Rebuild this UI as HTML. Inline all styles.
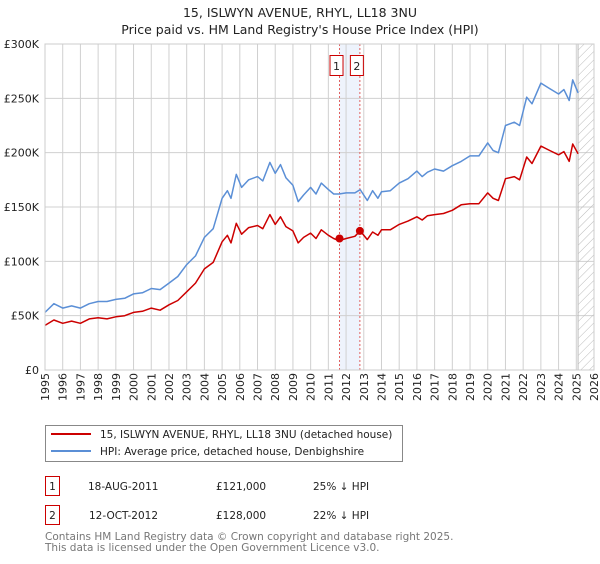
<!DOCTYPE html>
<html><head><meta charset="utf-8"><style>
body{margin:0;background:#fff;font-family:"DejaVu Sans","Liberation Sans",sans-serif;}
svg text{font-family:"DejaVu Sans","Liberation Sans",sans-serif;}
</style></head><body>
<svg id="c" width="600" height="560" xmlns="http://www.w3.org/2000/svg">
<defs><pattern id="hatch" width="6" height="6" patternUnits="userSpaceOnUse" patternTransform="rotate(45)"><line x1="0" y1="0" x2="0" y2="6" stroke="#bbb" stroke-width="1"/></pattern></defs>
<text x="300" y="17" text-anchor="middle" font-size="12.5" fill="#222">15, ISLWYN AVENUE, RHYL, LL18 3NU</text>
<text x="300" y="34" text-anchor="middle" font-size="12.5" fill="#222">Price paid vs. HM Land Registry's House Price Index (HPI)</text>
<g id="plot"></g>
<g>
<rect x="45.5" y="425.5" width="357" height="36" fill="#fff" stroke="#888"/>
<line x1="51" y1="434" x2="91" y2="434" stroke="#cc0000" stroke-width="2"/>
<text x="100" y="438" font-size="10.5" fill="#222">15, ISLWYN AVENUE, RHYL, LL18 3NU (detached house)</text>
<line x1="51" y1="451" x2="91" y2="451" stroke="#5b8fd6" stroke-width="2"/>
<text x="100" y="455" font-size="10.5" fill="#222">HPI: Average price, detached house, Denbighshire</text>
</g>
<g>
<rect x="45.5" y="476.5" width="14" height="19" fill="none" stroke="#cc0000"/>
<text x="52.5" y="490" text-anchor="middle" font-size="10.5" fill="#222">1</text>
<text x="88" y="490" font-size="10.5" fill="#222">18-AUG-2011</text>
<text x="216" y="490" font-size="10.5" fill="#222">£121,000</text>
<text x="313" y="490" font-size="10.5" fill="#222">25% ↓ HPI</text>
</g>
<g>
<rect x="45.5" y="505.5" width="14" height="19" fill="none" stroke="#cc0000"/>
<text x="52.5" y="519" text-anchor="middle" font-size="10.5" fill="#222">2</text>
<text x="89" y="519" font-size="10.5" fill="#222">12-OCT-2012</text>
<text x="216" y="519" font-size="10.5" fill="#222">£128,000</text>
<text x="313" y="519" font-size="10.5" fill="#222">22% ↓ HPI</text>
</g>
<text x="45" y="540" font-size="10.5" fill="#777">Contains HM Land Registry data © Crown copyright and database right 2025.</text>
<text x="45" y="551" font-size="10.5" fill="#777">This data is licensed under the Open Government Licence v3.0.</text>
</svg>
<script>
const years=[1995,1995.5,1996,1996.5,1997,1997.5,1998,1998.5,1999,1999.5,2000,2000.5,2001,2001.5,2002,2002.5,2003,2003.5,2004,2004.5,2005,2005.3,2005.5,2005.8,2006.1,2006.5,2007,2007.3,2007.7,2008.0,2008.3,2008.6,2009,2009.3,2009.6,2010,2010.3,2010.6,2011,2011.3,2011.6,2012,2012.5,2012.8,2013.2,2013.5,2013.8,2014,2014.5,2015,2015.5,2016,2016.3,2016.6,2017,2017.5,2018,2018.5,2019,2019.5,2020,2020.3,2020.6,2021,2021.5,2021.8,2022.2,2022.5,2023,2023.5,2024,2024.3,2024.6,2024.8,2025.1];
const hpi=[53,61,57,59,57,61,63,63,65,66,70,71,75,74,80,86,97,105,122,130,158,165,158,180,168,175,178,174,191,181,189,177,170,155,161,168,162,172,166,162,162,163,163,166,156,165,158,164,165,172,176,183,178,182,185,183,188,192,197,197,209,202,200,225,228,225,251,245,264,259,254,258,248,267,255];
const price=[41,46,43,45,43,47,48,47,49,50,53,54,57,55,60,64,72,80,93,99,118,124,117,135,125,131,133,130,143,134,141,132,128,117,122,126,121,129,124,121,119,121,123,128,120,127,124,129,129,134,137,141,138,142,143,144,147,152,153,153,163,158,156,176,178,175,196,190,206,202,198,201,192,208,199];
const saleYears=[2011.63,2012.78];
const salePrices=[121,128];
const saleLabels=["1","2"];
const yTicks=[0,50,100,150,200,250,300];
const yTickLabels=["£0","£50K","£100K","£150K","£200K","£250K","£300K"];
const xTicks=[1995,1996,1997,1998,1999,2000,2001,2002,2003,2004,2005,2006,2007,2008,2009,2010,2011,2012,2013,2014,2015,2016,2017,2018,2019,2020,2021,2022,2023,2024,2025,2026];

const X0=45,X1=594,Y0=370,Y1=44;
const xs=y=>X0+(y-1995)/(2026-1995)*(X1-X0);
const ys=v=>Y0-v/300*(Y0-Y1);
const NS="http://www.w3.org/2000/svg";
const g=document.getElementById('plot');
function mk(t,a,p){const e=document.createElementNS(NS,t);for(const k in a)e.setAttribute(k,a[k]);(p||g).appendChild(e);return e;}

const band=mk('rect',{x:xs(saleYears[0]),y:Y1,width:xs(saleYears[1])-xs(saleYears[0]),height:Y0-Y1,fill:'#eef3fc'});


xTicks.forEach(t=>{
  const l=mk('line',{x1:xs(t),x2:xs(t),y1:Y1,y2:Y0,stroke:'#d0d0d0'});
  
  
  const tx=mk('text',{x:0,y:0,'font-size':'11',fill:'#222','text-anchor':'end',transform:`translate(${xs(t)+4},${Y0+3}) rotate(-90)`});
  tx.textContent=t;
  
  
});
yTicks.forEach((t,i)=>{
  const l=mk('line',{x1:X0,x2:X1,y1:ys(t),y2:ys(t),stroke:'#d0d0d0'});
  
  
  const tx=mk('text',{x:X0-6,y:ys(t)+4,'font-size':'11',fill:'#222','text-anchor':'end'});
  tx.textContent=yTickLabels[i];
  
  
});
const hx=xs(2025.1);
const h=mk('rect',{x:hx,y:Y1,width:X1-hx,height:Y0-Y1,fill:'url(#hatch)',stroke:'#bbb'});


saleYears.forEach((s,i)=>{
  const l=mk('line',{x1:xs(s),x2:xs(s),y1:Y1,y2:Y0,stroke:'#e06060','stroke-dasharray':'2,2'});
  
  
  const r=mk('rect',{x:xs(s)-9.5,y:55.5,width:13,height:20,fill:'#fff',stroke:'#cc0000'});
  
  
  const t=mk('text',{x:xs(s)-3,y:70,'font-size':'11',fill:'#222','text-anchor':'middle'});
  t.textContent=saleLabels[i];
  
  
});
function line(arr,col,name){
  const d=years.map((y,i)=>(i?'L':'M')+xs(y).toFixed(1)+','+ys(arr[i]).toFixed(1)).join('');
  const p=mk('path',{d:d,fill:'none',stroke:col,'stroke-width':'1.5','stroke-linejoin':'round'});
  
  
}
line(hpi,'#5b8fd6','hpi-line');
line(price,'#cc0000','price-line');
saleYears.forEach((s,i)=>{
  const c=mk('circle',{cx:xs(s),cy:ys(salePrices[i]),r:4,fill:'#cc0000'});
  
  
});
const ax=mk('rect',{x:X0,y:Y1,width:X1-X0,height:Y0-Y1,fill:'none',stroke:'#ccc'});


</script>
</body></html>
